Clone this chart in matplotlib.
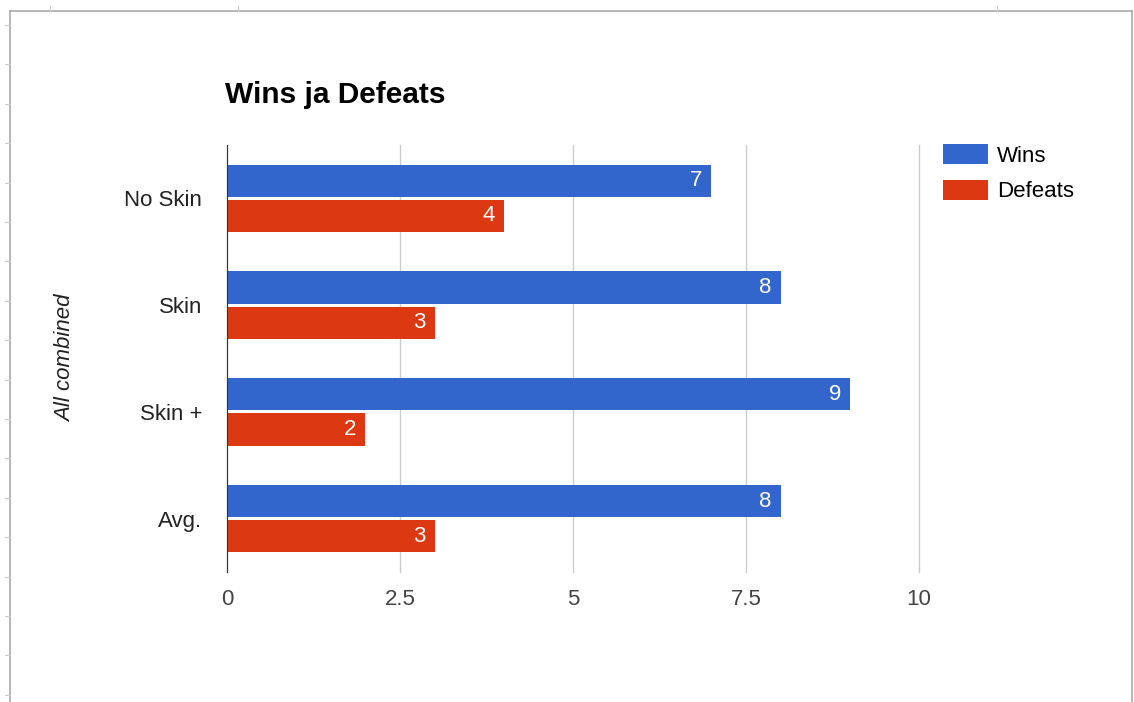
"""Wins ja Defeats - grouped horizontal bars, Google-Sheets look."""
import matplotlib
matplotlib.use("Agg")
import matplotlib.pyplot as plt
from matplotlib.lines import Line2D
from matplotlib.patches import Patch
import numpy as np

categories = ["No Skin", "Skin", "Skin +", "Avg."]
wins = [7, 8, 9, 8]
defeats = [4, 3, 2, 3]
x_ticks = [0, 2.5, 5, 7.5, 10]
x_ticklabels = ["0", "2.5", "5", "7.5", "10"]

BLUE = "#3366cc"
RED = "#dc3912"
plt.rcParams["font.family"] = ["Liberation Sans", "DejaVu Sans"]

W, H = 1134, 702
fig = plt.figure(figsize=(W / 100, H / 100), dpi=100)


def fx(px):
    return px / W


def fy(py):
    return 1 - py / H


# spreadsheet frame around the chart
for xs, ys in [([10, 10], [702, 11]), ([10, 1132], [11, 11]), ([1132, 1132], [11, 702])]:
    fig.add_artist(Line2D([fx(v) for v in xs], [fy(v) for v in ys],
                          transform=fig.transFigure, color="#aaaaaa", lw=1.2))
for yp in np.arange(25, 702, 39.4):
    fig.add_artist(Line2D([fx(5), fx(10)], [fy(yp), fy(yp)], transform=fig.transFigure,
                          color="#cccccc", lw=0.8))
for xp in [50, 238, 997]:
    fig.add_artist(Line2D([fx(xp), fx(xp)], [fy(11), fy(6)], transform=fig.transFigure,
                          color="#cccccc", lw=0.8))

ax = fig.add_axes([fx(227), fy(572), fx(919 - 227), (572 - 145) / H])

y = np.arange(len(categories))
bh = 0.30
gap = 0.015
ax.barh(y - bh / 2 - gap, wins, height=bh, color=BLUE, zorder=3)
ax.barh(y + bh / 2 + gap, defeats, height=bh, color=RED, zorder=3)

for i in range(len(categories)):
    ax.text(wins[i] - 0.13, y[i] - bh / 2 - gap, str(wins[i]), color="white",
            ha="right", va="center", fontsize=16, zorder=4)
    ax.text(defeats[i] - 0.13, y[i] + bh / 2 + gap, str(defeats[i]), color="white",
            ha="right", va="center", fontsize=16, zorder=4)

ax.set_xlim(0, 10)
ax.set_ylim(len(categories) - 0.5, -0.5)
ax.set_xticks(x_ticks)
ax.set_xticklabels(x_ticklabels)
ax.set_yticks(y)
ax.set_yticklabels(categories)
ax.tick_params(axis="x", length=0, pad=12, labelsize=16, labelcolor="#444444")
ax.tick_params(axis="y", length=0, pad=18, labelsize=16, labelcolor="#222222")
ax.grid(axis="x", color="#cccccc", lw=1, zorder=0)
for gl in ax.get_xgridlines():
    gl.set_clip_on(False)
for s in ["top", "right", "bottom"]:
    ax.spines[s].set_visible(False)
ax.spines["left"].set_color("#333333")
ax.spines["left"].set_zorder(5)
ax.set_axisbelow(True)

ax.set_ylabel("All combined", style="italic", fontsize=16, color="#222222")
ax.yaxis.set_label_coords(fx(76 - 227) / fx(919 - 227), 0.5)

fig.text(fx(225), fy(103), "Wins ja Defeats", fontsize=21.5, fontweight="bold",
         ha="left", va="baseline", color="#000000")

handles = [Patch(facecolor=BLUE, label="Wins"), Patch(facecolor=RED, label="Defeats")]
fig.legend(handles=handles, loc="upper left", bbox_to_anchor=(fx(923), fy(124)),
           frameon=False, fontsize=16, handlelength=2.03, handleheight=1.0,
           handletextpad=0.4, labelspacing=0.6)

fig.savefig("out.png", dpi=100)
